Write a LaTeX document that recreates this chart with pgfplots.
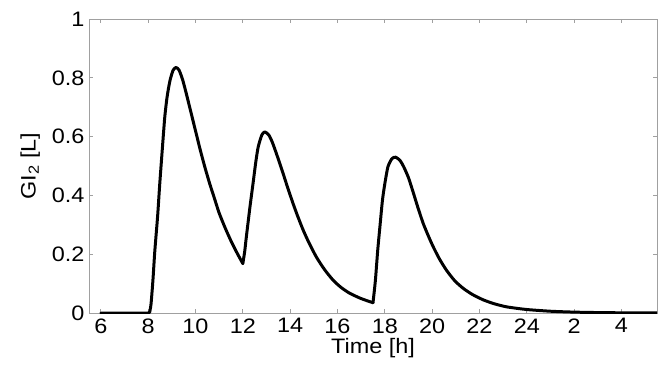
\documentclass[border=0pt]{standalone}
\usepackage{pgfplots}
\pgfplotsset{compat=1.18}
\usepackage{fontspec}
\setmainfont{Liberation Sans}[FakeStretch=1.12]
\usetikzlibrary{calc}
\definecolor{axgray}{RGB}{160,160,160}
\begin{document}
\begin{tikzpicture}
\begin{axis}[
  scale only axis,
  width=568bp, height=294bp,
  xmin=5.5, xmax=29.5, ymin=0, ymax=1,
  xtick={6,8,10,12,14,16,18,20,22,24,26,28},
  xticklabels={6,8,10,12,14,16,18,20,22,24,2,4},
  ytick={0,0.2,0.4,0.6,0.8,1},
  yticklabels={0,0.2,0.4,0.6,0.8,1},
  tick align=inside,
  major tick length=4bp,
  axis line style={axgray, line width=0.8pt},
  every tick/.style={axgray, line width=0.8pt},
  tick label style={font=\fontsize{21}{23}\selectfont, black},
  label style={font=\fontsize{21}{23}\selectfont, black},
  /pgf/number format/assume math mode=true,
  xlabel={Time [h]},
  ylabel={GI\textsubscript{2} [L]},
  xlabel style={yshift=2bp},
  ylabel style={yshift=5bp},
  xticklabel style={yshift=-2bp},
  yticklabel style={xshift=-1bp},
  every axis plot/.append style={black, line width=3pt, line join=round, line cap=round},
]
\addplot[sharp plot, no marks] coordinates {(6,0) (8.0,0) (8.06,0.002)};
\addplot[smooth, tension=0.4, no marks] coordinates {
(8.06,0.002) (8.12,0.03) (8.2,0.11) (8.28,0.21) (8.4,0.33)
(8.49,0.44) (8.6,0.56) (8.7,0.665) (8.8,0.735) (8.92,0.79) (9.05,0.825)
(9.17,0.835) (9.3,0.827) (9.45,0.795) (9.6,0.75) (9.8,0.685) (10.0,0.62)
(10.2,0.555) (10.4,0.495) (10.6,0.44) (10.8,0.39) (11.0,0.34) (11.25,0.29)
(11.5,0.245) (11.75,0.205) (12.0,0.168)
};
\addplot[smooth, tension=0.4, no marks] coordinates {
(12.0,0.168) (12.08,0.21) (12.15,0.26) (12.3,0.36) (12.43,0.44) (12.55,0.515) (12.65,0.565)
(12.8,0.605) (12.93,0.616) (13.1,0.605) (13.25,0.58) (13.45,0.535) (13.7,0.475)
(13.9,0.425) (14.12,0.373) (14.3,0.333) (14.55,0.282) (14.8,0.238) (15.11,0.19)
(15.45,0.148) (15.81,0.112) (16.15,0.087) (16.52,0.067) (17.0,0.049) (17.5,0.035)
};
\addplot[smooth, tension=0.4, no marks] coordinates {
(17.5,0.035) (17.6,0.11) (17.7,0.214) (17.8,0.30) (17.9,0.384) (18.0,0.44) (18.13,0.497)
(18.3,0.525) (18.46,0.53) (18.65,0.518) (18.8,0.497) (19.0,0.46) (19.2,0.41)
(19.4,0.358) (19.62,0.305) (19.85,0.26) (20.04,0.226) (20.3,0.185) (20.6,0.146)
(20.95,0.11) (21.31,0.084) (21.7,0.063) (22.15,0.045) (22.6,0.032)
(23.14,0.021) (23.98,0.012) (25,0.006) (26,0.003) (27,0.0015) (28,0.0007) (29.5,0.0002)
};
\end{axis}
\pgfresetboundingbox
\path[use as bounding box] ($(current axis.south west)+(-89bp,-52bp)$) rectangle ($(current axis.north east)+(13bp,19bp)$);
\end{tikzpicture}
\end{document}
